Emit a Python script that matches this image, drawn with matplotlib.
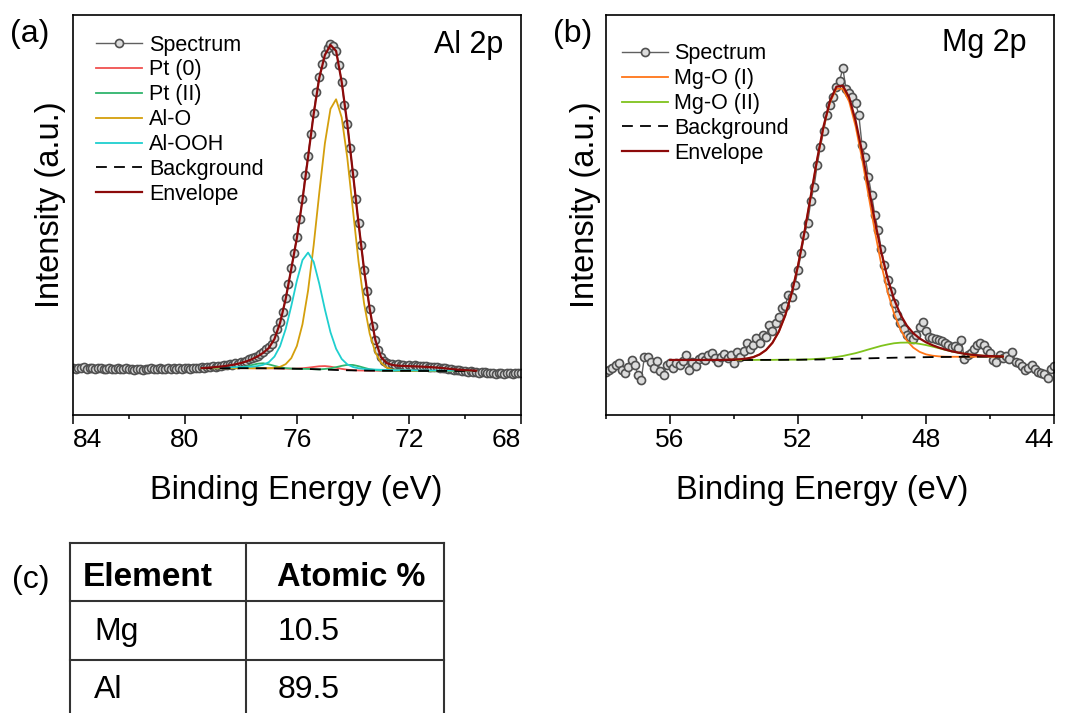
import numpy as np
import matplotlib
matplotlib.use("Agg")
import matplotlib.pyplot as plt
from matplotlib.ticker import FixedLocator

plt.rcParams['font.family'] = ['Liberation Sans', 'DejaVu Sans']

# ---------------- Al 2p (panel a) ----------------
# raw spectrum: 84.0 eV down to 68.0 eV, 0.1 eV step (intensity in a.u.)
al_e0, al_de = 84.0, 0.1
al_spectrum = [
    47, 46, 47, 46.5, 47.5, 46, 46.5, 47, 46, 46.5,
    47, 46, 45.5, 46.5, 46, 45.5, 46.5, 45.5, 46, 46.5,
    45.5, 46, 45, 45.5, 46, 45, 46, 45.5, 46.5, 45.5,
    46, 46.5, 45.5, 46, 46.5, 45.5, 46.5, 46, 47, 46,
    46.5, 47, 46, 46.5, 47, 46.5, 47.5, 47, 48, 47.5,
    48.5, 48, 49, 48.5, 49.5, 50, 50.5, 50, 51.5, 51,
    52.5, 53, 54, 55.5, 56.5, 58, 59, 61, 63, 65.5,
    68, 71, 77, 86, 93, 103, 117, 131, 147, 162,
    178, 196, 216, 240, 259, 281, 302, 323, 338, 351,
    361, 367, 371, 369, 364, 350, 333, 310, 291, 267,
    242, 216, 192, 170, 145, 124, 106, 89, 75, 65,
    58, 54, 52, 51, 50.5, 50, 50.5, 49.5, 50, 49,
    49.5, 49, 49.5, 48.5, 49, 48.5, 49, 48, 48, 47.5,
    47.5, 47, 46.5, 47, 46, 45.5, 45, 44.5, 44.5, 43.5,
    44, 43, 43.5, 42.5, 43, 42, 42.5, 43, 42, 41.5,
    42, 41, 41.5, 42, 41, 41.5, 42, 41, 42, 41.5,
    42,
]
# fitted curves: 79.4 eV down to 69.6 eV, 0.2 eV step
al_fit_e0, al_fit_de = 79.4, 0.2
al_background = [
    46.8, 46.8, 46.8, 46.8, 46.8, 46.8, 46.8, 46.8, 46.8, 46.7,
    46.7, 46.7, 46.6, 46.6, 46.5, 46.4, 46.3, 46.2, 46.1, 46.0,
    45.8, 45.6, 45.4, 45.2, 45.0, 44.8, 44.7, 44.6, 44.5, 44.4,
    44.3, 44.3, 44.2, 44.2, 44.2, 44.1, 44.1, 44.1, 44.1, 44.0,
    44.0, 44.0, 44.0, 44.0, 44.0, 44.0, 44.0, 44.0, 44.0, 44.0,
]
al_pt0 = [
    46.8, 46.8, 46.8, 46.8, 46.8, 46.8, 46.8, 46.8, 46.8, 46.7,
    46.7, 46.7, 46.6, 46.6, 46.5, 46.4, 46.3, 46.4, 46.7, 47.3,
    48.0, 48.7, 48.9, 48.3, 47.2, 46.1, 45.3, 44.8, 44.5, 44.4,
    44.3, 44.3, 44.2, 44.2, 44.2, 44.1, 44.1, 44.1, 44.1, 44.0,
    44.0, 44.0, 44.0, 44.0, 44.0, 44.0, 44.0, 44.0, 44.0, 44.0,
]
al_pt2 = [
    46.8, 46.8, 46.8, 46.8, 46.8, 46.8, 46.8, 47.5, 48.6, 50.0,
    51.3, 51.7, 50.6, 49.1, 47.7, 46.8, 46.4, 46.2, 46.1, 46.0,
    45.8, 45.6, 46.0, 46.6, 47.8, 49.1, 50.1, 50.0, 48.8, 47.2,
    45.7, 44.9, 44.4, 44.2, 44.2, 44.1, 44.1, 44.1, 44.1, 44.0,
    44.0, 44.0, 44.0, 44.0, 44.0, 44.0, 44.0, 44.0, 44.0, 44.0,
]
al_alo = [
    46.8, 46.8, 46.8, 46.8, 46.8, 46.8, 46.8, 46.8, 46.8, 46.7,
    46.7, 46.7, 46.8, 47.1, 48.1, 50.8, 56.8, 69.0, 90.7, 124.4,
    169.8, 222.2, 271.6, 306.1, 315.7, 297.5, 257.1, 205.2, 153.7, 111.3,
    81.2, 62.6, 52.4, 47.5, 45.4, 44.5, 44.2, 44.1, 44.1, 44.0,
    44.0, 44.0, 44.0, 44.0, 44.0, 44.0, 44.0, 44.0, 44.0, 44.0,
]
al_alooh = [
    47.3, 47.3, 47.4, 47.5, 47.5, 47.6, 47.8, 47.9, 48.1, 48.3,
    48.9, 50.2, 52.8, 58.4, 68.8, 85.9, 108.9, 134.2, 154.9, 162.4,
    153.1, 131.2, 105.6, 82.7, 66.2, 56.0, 50.6, 48.0, 46.7, 46.0,
    45.6, 45.4, 45.2, 45.1, 44.9, 44.8, 44.7, 44.6, 44.6, 44.4,
    44.4, 44.4, 44.4, 44.3, 44.3, 44.3, 44.3, 44.3, 44.2, 44.2,
]
al_envelope = [
    47.0, 47.3, 47.7, 48.2, 48.8, 49.6, 50.6, 51.9, 53.6, 55.8,
    58.6, 62.2, 67.0, 76.0, 92.0, 116.0, 146.0, 177.0, 215.0, 258.0,
    301.0, 337.0, 360.0, 370.0, 364.0, 333.0, 291.0, 242.0, 192.0, 145.0,
    106.0, 75.0, 58.0, 52.0, 50.0, 49.3, 49.0, 48.8, 48.6, 48.4,
    48.1, 47.8, 47.4, 46.9, 46.3, 45.7, 45.2, 44.8, 44.5, 44.3,
]

# ---------------- Mg 2p (panel b) ----------------
# raw spectrum: 58.0 eV down to 44.0 eV, 0.1 eV step
mg_e0, mg_de = 58.0, 0.1
mg_spectrum = [
    43, 45, 47, 50, 52, 45, 42, 48, 55, 50,
    40, 35, 58, 58, 53, 47, 54, 44, 40, 50,
    52, 47, 52, 50, 54, 60, 45, 53, 49, 56,
    58, 55, 60, 62, 57, 53, 58, 61, 57, 60,
    52, 63, 58, 64, 72, 66, 70, 77, 72, 80,
    78, 90, 84, 92, 98, 107, 109, 120, 118, 130,
    145, 162, 180, 192, 214, 228, 250, 268, 284, 300,
    310, 318, 328, 334, 347, 326, 322, 318, 312, 300,
    270, 258, 238, 220, 200, 185, 166, 150, 135, 124,
    112, 100, 92, 86, 80, 78, 76, 80, 88, 93,
    84, 78, 77, 76, 75, 74, 72, 70, 68, 69,
    67, 75, 56, 60, 62, 66, 70, 72, 70, 65,
    62, 55, 53, 60, 57, 59, 56, 63, 53, 52,
    49, 45, 47, 50, 46, 43, 42, 41, 37, 46,
    49,
]
# fitted curves: 56.0 eV down to 45.6 eV, 0.2 eV step
mg_fit_e0, mg_fit_de = 56.0, 0.2
mg_background = [
    55.0, 55.0, 55.0, 55.0, 55.0, 55.0, 55.0, 55.0, 55.0, 55.0,
    55.0, 55.0, 55.0, 55.0, 55.05, 55.05, 55.1, 55.1, 55.15, 55.2,
    55.2, 55.3, 55.35, 55.45, 55.55, 55.7, 55.85, 56.0, 56.15, 56.3,
    56.5, 56.65, 56.8, 56.95, 57.1, 57.25, 57.4, 57.5, 57.6, 57.7,
    57.8, 57.9, 57.95, 58.0, 58.05, 58.1, 58.15, 58.2, 58.25, 58.25,
    58.3, 58.3, 58.3,
]
mg_mgo1 = [
    55.0, 55.0, 55.0, 55.0, 55.0, 55.0, 55.0, 55.0, 55.0, 55.2,
    55.3, 55.7, 56.4, 57.8, 60.5, 64.9, 72.1, 83.2, 99.4, 121.3,
    149.2, 182.4, 218.9, 255.4, 288.0, 312.7, 326.2, 326.3, 313.2, 288.7,
    256.4, 220.2, 183.9, 151.0, 123.2, 101.5, 85.5, 74.5, 67.4, 63.1,
    60.6, 59.3, 58.6, 58.3, 58.2, 58.2, 58.2, 58.2, 58.3, 58.3,
    58.3, 58.3, 58.3,
]
mg_mgo2 = [
    55.0, 55.0, 55.0, 55.0, 55.0, 55.0, 55.0, 55.0, 55.0, 55.0,
    55.0, 55.0, 55.0, 55.0, 55.1, 55.1, 55.1, 55.2, 55.2, 55.3,
    55.3, 55.5, 55.7, 56.1, 56.5, 57.1, 58.0, 59.0, 60.4, 61.8,
    63.6, 65.5, 67.3, 69.1, 70.5, 71.7, 72.3, 72.4, 72.0, 71.1,
    69.9, 68.4, 66.8, 65.1, 63.6, 62.3, 61.2, 60.3, 59.7, 59.2,
    58.9, 58.7, 58.5,
]
mg_envelope = [
    55.0, 55.0, 55.0, 55.0, 55.0, 55.0, 55.0, 55.0, 55.0, 55.2,
    55.3, 55.7, 56.4, 57.8, 60.5, 64.9, 72.1, 83.3, 99.4, 121.4,
    149.3, 182.6, 219.2, 256.0, 288.9, 314.1, 328.3, 329.3, 317.4, 294.2,
    263.5, 229.0, 194.4, 163.1, 136.6, 115.9, 100.4, 89.4, 81.8, 76.5,
    72.7, 69.8, 67.4, 65.4, 63.7, 62.4, 61.2, 60.3, 59.7, 59.2,
    58.9, 58.7, 58.5,
]

# ---------------- table (panel c) ----------------
table_header = ["Element", "Atomic %"]
table_elements = ["Mg", "Al"]
table_atomic = [10.5, 89.5]


def energies(e0, de, n):
    return np.round(e0 - de * np.arange(n), 2)


def draw_panel(ax, spec, spec_e0, spec_de, fit_e0, fit_de, comps, bg, env,
               xlim, major, minor, title, title_xy, leg_anchor, xlab_x, ylab_x):
    ex = energies(spec_e0, spec_de, len(spec))
    fx = energies(fit_e0, fit_de, len(bg))
    ax.plot(ex, spec, color='#606060', lw=1.0, marker='o', ms=5.8,
            mfc='#dcdcdc', mec='#505050', mew=1.2, label='Spectrum', zorder=2)
    for lab, vals, col in comps:
        ax.plot(fx, vals, color=col, lw=1.3, label=lab, zorder=3)
    ax.plot(fx, bg, color='black', lw=1.3, ls=(0, (6, 4)), label='Background', zorder=4)
    ax.plot(fx, env, color='#8c0a0a', lw=1.6, label='Envelope', zorder=5)

    ax.set_xlim(*xlim)
    ax.set_ylim(0, 400)
    ax.set_yticks([])
    ax.xaxis.set_major_locator(FixedLocator(major))
    ax.xaxis.set_minor_locator(FixedLocator(minor))
    ax.tick_params(axis='x', which='major', direction='out', length=6.2,
                   width=1.1, labelsize=19, pad=3.5)
    ax.tick_params(axis='x', which='minor', direction='out', length=3.1, width=1.1)
    for sp in ax.spines.values():
        sp.set_linewidth(1.2)

    ax.set_xlabel('Binding Energy (eV)', fontsize=23.5)
    ax.xaxis.set_label_coords(xlab_x, -0.151)
    ax.set_ylabel('Intensity (a.u.)', fontsize=23.5)
    ax.yaxis.set_label_coords(ylab_x, 0.525)

    ax.text(title_xy[0], title_xy[1], title, transform=ax.transAxes,
            ha='right', va='baseline', fontsize=22)
    ax.legend(loc='upper left', bbox_to_anchor=leg_anchor, frameon=False,
              fontsize=15.5, handlelength=2.15, handletextpad=0.3,
              labelspacing=0.18, borderpad=0, borderaxespad=0, numpoints=1)


fig = plt.figure(figsize=(10.65, 7.13), dpi=100)

ax_a = fig.add_axes([0.0683, 0.418, 0.4209, 0.561])
draw_panel(ax_a, al_spectrum, al_e0, al_de, al_fit_e0, al_fit_de,
           [('Pt (0)', al_pt0, '#f0504f'),
            ('Pt (II)', al_pt2, '#2fb46c'),
            ('Al-O', al_alo, '#d49f0c'),
            ('Al-OOH', al_alooh, '#1fcfcf')],
           al_background, al_envelope,
           (84, 68), [84, 80, 76, 72, 68], [82, 78, 74, 70],
           'Al 2p', (0.96, 0.904), (0.052, 0.951), 0.498, -0.015)

ax_b = fig.add_axes([0.569, 0.418, 0.4207, 0.561])
draw_panel(ax_b, mg_spectrum, mg_e0, mg_de, mg_fit_e0, mg_fit_de,
           [('Mg-O (I)', mg_mgo1, '#ff7518'),
            ('Mg-O (II)', mg_mgo2, '#7fc31c')],
           mg_background, mg_envelope,
           (58, 44), [56, 52, 48, 44], [58, 54, 50, 46],
           'Mg 2p', (0.939, 0.911), (0.035, 0.929), 0.482, -0.011)

# edge tick labels sit inside the frame, as in the original
labs_a = ax_a.get_xticklabels()
labs_a[0].set_ha('left')
labs_a[-1].set_ha('right')
ax_b.get_xticklabels()[-1].set_ha('right')

fig.text(0.009, 0.952, '(a)', fontsize=23, va='center', ha='left')
fig.text(0.519, 0.952, '(b)', fontsize=23, va='center', ha='left')
fig.text(0.011, 0.187, '(c)', fontsize=23, va='center', ha='left')

# table drawn in pixel coordinates on an overlay axes
tab = fig.add_axes([0, 0, 1, 1])
tab.set_xlim(0, 1065)
tab.set_ylim(713, 0)
tab.axis('off')
col_x = [70, 245.5, 444]
row_y = [543, 601, 660, 719]
for y in row_y[:-1]:
    tab.plot([col_x[0], col_x[-1]], [y, y], color='#333333', lw=1.5,
             solid_capstyle='projecting')
for x in col_x:
    tab.plot([x, x], [row_y[0], row_y[-1]], color='#333333', lw=1.5,
             solid_capstyle='projecting')
tab.text(83, 586, table_header[0], fontsize=24, fontweight='bold', va='baseline')
tab.text(277, 586, table_header[1], fontsize=23.5, fontweight='bold', va='baseline')
for el, val, yb in zip(table_elements, table_atomic, [640, 698]):
    tab.text(94, yb, el, fontsize=23, va='baseline')
    tab.text(278, yb, f"{val:.1f}", fontsize=23, va='baseline')

fig.savefig('out.png', dpi=100)
